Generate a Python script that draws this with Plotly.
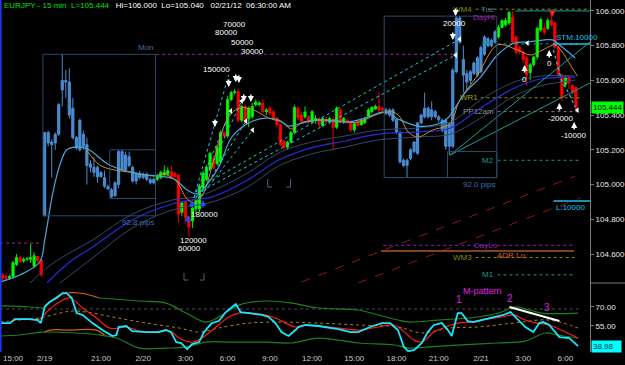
import plotly.graph_objects as go

FONT = "Arial, 'Liberation Sans', sans-serif"

# ---------------- price bars (EURJPY 15 min) ----------------
opens = [104.47,104.48,104.47,104.46,104.47,104.54,104.58,104.56,104.57,104.57,104.53,104.585,104.565,
         104.82,105.30,105.245,105.24,105.29,105.545,105.60,105.59,105.44,105.27,105.20,105.29,105.23,105.12,
         105.10,105.10,105.045,105.04,104.99,104.97,104.935,105.00,105.19,105.085,105.16,105.10,105.02,105.065,
         105.04,105.06,105.03,105.01,105.03,105.04,105.055,105.06,105.075,105.065,105.055,104.84,104.90,104.81,
         104.79,104.86,104.86,104.98,105.03,105.09,105.15,105.12,105.13,105.30,105.28,105.49,105.53,105.535,
         105.37,105.45,105.38,105.39,105.46,105.46,105.47,105.42,105.44,105.42,105.385,105.345,105.25,105.215,
         105.245,105.30,105.44,105.40,105.39,105.39,105.36,105.37,105.38,105.34,105.375,105.36,105.375,105.33,
         105.43,105.36,105.37,105.36,105.315,105.36,105.345,105.355,105.395,105.42,105.435,105.45,105.44,
         105.43,105.43,105.43,105.375,105.30,105.14,105.11,105.15,105.19,105.18,105.355,105.39,105.44,105.39,
         105.42,105.39,105.37,105.37,105.35,105.22,105.65,105.96,105.72,105.64,105.60,105.64,105.63,105.65,
         105.75,105.84,105.80,105.82,105.85,105.905,105.92,105.93,105.965,105.85,105.79,105.765,105.73,105.645,
         105.69,105.735,105.89,105.90,105.90,105.945,105.93,105.79,105.63,105.575,105.62,105.57,105.56]
highs = [104.48,104.49,104.49,104.48,104.56,104.60,104.59,104.58,104.58,104.66,104.61,104.59,104.575,
         105.30,105.31,105.26,105.30,105.47,105.75,105.66,105.67,105.50,105.28,105.38,105.31,105.27,105.14,
         105.16,105.11,105.08,105.08,105.00,104.98,105.02,105.20,105.20,105.19,105.19,105.11,105.07,105.08,
         105.07,105.07,105.04,105.04,105.06,105.08,105.11,105.10,105.11,105.075,105.06,104.90,104.91,104.82,
         104.88,104.92,105.00,105.08,105.11,105.19,105.17,105.23,105.31,105.31,105.51,105.54,105.55,105.55,
         105.46,105.46,105.45,105.47,105.49,105.48,105.49,105.44,105.45,105.43,105.39,105.35,105.26,105.25,
         105.31,105.46,105.45,105.42,105.45,105.40,105.43,105.40,105.39,105.39,105.39,105.39,105.39,105.45,
         105.44,105.39,105.38,105.37,105.36,105.37,105.38,105.39,105.44,105.45,105.46,105.53,105.45,
         105.44,105.44,105.44,105.38,105.31,105.15,105.15,105.21,105.25,105.36,105.41,105.53,105.45,105.48,
         105.43,105.40,105.38,105.38,105.36,105.67,105.97,105.97,105.80,105.66,105.66,105.71,105.74,105.80,
         105.86,105.85,105.84,105.89,105.92,105.95,105.96,106.00,106.00,105.86,105.80,105.77,105.74,105.70,
         105.74,105.91,105.96,105.93,105.96,106.00,105.94,105.80,105.64,105.63,105.63,105.58,105.57]
lows = [104.45,104.45,104.45,104.45,104.46,104.53,104.55,104.55,104.56,104.55,104.52,104.55,104.47,
        104.82,105.22,105.04,105.20,105.28,105.45,105.50,105.38,105.26,105.20,105.19,105.20,105.00,105.07,
        105.045,105.01,105.04,104.98,104.97,104.92,104.93,104.98,105.08,105.07,105.10,105.01,105.00,105.03,
        105.03,105.02,105.00,105.00,105.02,105.03,105.05,105.05,105.04,105.035,104.78,104.82,104.78,104.70,
        104.75,104.83,104.84,104.97,105.02,105.08,105.09,105.11,105.12,105.27,105.27,105.48,105.52,105.36,
        105.36,105.35,105.33,105.38,105.45,105.45,105.41,105.40,105.40,105.37,105.33,105.22,105.20,105.20,
        105.24,105.29,105.37,105.35,105.38,105.35,105.35,105.35,105.33,105.33,105.35,105.35,105.20,105.32,
        105.35,105.35,105.35,105.30,105.30,105.33,105.34,105.35,105.39,105.41,105.43,105.42,105.42,
        105.40,105.39,105.36,105.29,105.12,105.10,105.04,105.14,105.18,105.17,105.35,105.38,105.38,105.37,
        105.38,105.36,105.30,105.20,105.17,105.21,105.64,105.81,105.53,105.55,105.58,105.63,105.62,105.64,
        105.74,105.79,105.79,105.81,105.84,105.90,105.91,105.92,105.81,105.75,105.75,105.70,105.57,105.60,
        105.68,105.72,105.88,105.86,105.89,105.91,105.78,105.62,105.48,105.56,105.55,105.52,105.43]
closes = [104.46,104.46,104.46,104.47,104.55,104.58,104.555,104.57,104.575,104.58,104.59,104.56,104.48,
          105.30,105.24,105.23,105.29,105.46,105.60,105.59,105.40,105.27,105.21,105.37,105.22,105.11,105.10,
          105.07,105.045,105.07,104.99,104.975,104.93,105.01,105.19,105.085,105.17,105.11,105.02,105.065,105.04,
          105.06,105.03,105.01,105.03,105.045,105.07,105.07,105.08,105.045,105.045,104.83,104.895,104.81,104.755,
          104.865,104.91,104.99,105.065,105.10,105.18,105.095,105.215,105.30,105.28,105.49,105.53,105.535,105.37,
          105.45,105.355,105.44,105.45,105.475,105.47,105.42,105.43,105.41,105.385,105.345,105.23,105.215,105.245,
          105.30,105.445,105.385,105.36,105.418,105.36,105.42,105.38,105.345,105.38,105.36,105.38,105.33,105.44,
          105.36,105.38,105.365,105.315,105.35,105.34,105.37,105.375,105.43,105.445,105.45,105.43,105.43,
          105.41,105.40,105.37,105.30,105.13,105.11,105.14,105.20,105.245,105.355,105.40,105.44,105.39,105.43,
          105.39,105.375,105.31,105.22,105.22,105.66,105.96,105.82,105.63,105.59,105.65,105.70,105.73,105.79,
          105.85,105.80,105.83,105.88,105.905,105.945,105.945,105.99,105.82,105.76,105.765,105.72,105.63,105.69,
          105.735,105.90,105.95,105.875,105.945,105.92,105.79,105.63,105.50,105.62,105.585,105.53,105.444]
bar_index = list(range(len(closes)))

x_tick_bars = [4, 13, 29, 41, 53, 65, 77, 89, 101, 113, 125, 137, 149, 161]
x_tick_labels = ["15:00", "2/19", "21:00", "2/20", "3:00", "6:00", "9:00", "12:00",
                 "15:00", "18:00", "21:00", "2/21", "3:00", "6:00"]
price_ticks = [104.6, 104.8, 105.0, 105.2, 105.4, 105.6, 105.8, 106.0]
osc_ticks = [55, 70]

# session boxes (first / last bar index)
session_mon = (13, 44)
session_mon_inner = (32, 44)
session_tue = (110, 141)
last_price = 105.444
last_osc = 38.98

# ---------------- moving averages ----------------
ma_fast_x = [0.3,5.9,11.6,13.0,15.3,17.3,19.2,21.5,25.2,31.4,39.9,45.5,49.8,53.5,56.3,59.7,62.5,66.2,71.0,75.8,
             79.5,82.3,85.1,90.8,99.3,104.1,109.8,113.4,119.1,124.8,127.6,132.4,136.9,141.7,146.5,150.2,155.0,
             157.3,160.1,163.8]
ma_fast_y = [104.439,104.479,104.554,104.680,104.951,105.113,105.199,105.216,105.205,105.113,105.061,105.049,
             105.032,104.969,104.946,105.015,105.101,105.274,105.355,105.383,105.372,105.337,105.349,105.372,
             105.360,105.383,105.418,105.378,105.337,105.349,105.383,105.527,105.619,105.746,105.815,105.821,
             105.833,105.833,105.792,105.729]
ma_orange_x = [24.9,28.6,32.8,37.1,44.1,46.9,50.6,53.2,55.4,57.7,61.1,64.8,68.2,72.4,76.7,80.3,83.2,86.6,93.6,
               102.1,107.8,112.0,114.0,116.3,119.1,123.3,128.1,131.0,136.1,141.7,147.4,151.1,154.5,158.1,160.1,
               162.4,164.4]
ma_orange_y = [105.199,105.113,105.084,105.072,105.049,105.061,105.015,104.923,104.894,104.934,105.141,105.372,
               105.441,105.429,105.383,105.360,105.320,105.360,105.372,105.360,105.407,105.418,105.389,105.303,
               105.274,105.314,105.349,105.487,105.631,105.804,105.775,105.746,105.775,105.804,105.764,105.689,
               105.625]
ma_blue_x = [13.6,20.1,26.6,37.9,49.2,56.9,60.5,70.2,79.5,88.8,98.4,107.8,119.1,128.4,136.9,146.5,153.9,163.8]
ma_blue_y = [104.433,104.554,104.640,104.796,104.888,104.917,104.928,105.020,105.141,105.211,105.251,105.291,
             105.303,105.326,105.441,105.556,105.608,105.619]
ma_slate1_x = [8.8,15.8,26.6,37.9,49.2,56.9,70.2,79.5,88.8,98.4,107.8,119.1,128.4,136.9,146.5,153.9,163.8]
ma_slate1_y = [104.433,104.554,104.680,104.830,104.911,104.934,105.061,105.182,105.245,105.280,105.314,105.326,
               105.360,105.487,105.591,105.625,105.625]
ma_slate2_x = [17.3,26.6,37.9,49.2,60.5,70.2,79.5,88.8,98.4,107.8,119.1,128.4,136.9,146.5,153.9,163.8]
ma_slate2_y = [104.433,104.577,104.750,104.853,104.899,104.980,105.107,105.176,105.216,105.257,105.274,105.291,
               105.383,105.510,105.568,105.602]

# cyan dotted trend/fan lines: (x0, y0, x1, y1)
fan_lines = [(55.4,104.923,65.3,105.631),(55.4,104.923,65.9,105.424),(56.0,104.923,69.0,105.481),
             (56.9,104.928,70.2,105.366),(57.4,104.934,72.1,105.314),(59.1,105.009,131.0,105.838),
             (59.1,104.980,129.8,105.746)]
trail_x = [157.6,160.1,161.5,163.8]
trail_y = [105.775,105.586,105.545,105.447]
teal_lines = [(128.2,105.170,168.0,105.821),(128.2,105.170,168.0,105.585)]
red_channel = [(86.0,104.439,163.8,105.049),(102.1,104.433,165.2,104.923)]

# ---------------- horizontal levels ----------------
lvl_wm4, lvl_dayhi, lvl_m3, lvl_stm = 106.01, 106.00, 105.81, 105.81
lvl_wr1, lvl_pp, lvl_m2, lvl_lim = 105.50, 105.42, 105.14, 104.905
lvl_daylo, lvl_adrlo, lvl_wm3, lvl_m1 = 104.65, 104.617, 104.58, 104.48
lvl_prev = 104.663

# ---------------- oscillator panel ----------------
rsi_x = [0.3,3.1,4.5,8.8,11.0,11.9,13.0,14.4,16.4,18.1,19.2,20.7,22.1,23.8,26.6,29.4,32.3,33.4,34.0,36.2,37.9,
         41.9,45.5,47.5,48.9,50.4,51.8,53.5,54.9,56.9,58.3,60.5,62.5,64.5,67.3,68.7,71.0,74.7,76.7,78.6,80.3,
         82.3,84.3,85.1,87.1,90.8,96.5,99.9,102.1,105.5,108.9,111.2,113.4,115.1,116.3,118.0,120.2,121.9,123.6,
         125.9,127.6,128.7,130.4,131.5,133.2,134.9,137.2,140.6,143.4,145.4,147.4,149.6,151.9,153.6,154.7,
         156.4,159.3,162.1,164.6]
rsi_y = [57.1,57.1,60.3,60.3,59.5,57.1,69.8,73.7,76.9,80.8,80.8,76.9,65.0,63.5,57.1,51.6,46.9,47.7,54.0,54.8,
         50.8,50.0,50.0,51.6,50.0,42.1,41.4,36.6,40.6,42.1,50.0,57.1,58.7,65.8,72.1,65.8,65.0,63.5,61.9,57.1,
         50.0,46.9,51.6,54.0,55.6,54.8,52.4,50.0,50.0,54.0,57.1,57.1,51.6,38.2,35.0,35.8,41.4,50.0,55.6,57.1,
         51.6,46.9,65.0,65.0,58.7,57.9,59.5,61.9,63.5,65.8,60.3,54.0,50.0,57.1,57.9,55.6,46.1,45.3,38.98]
sig_x = [3.1,5.9,11.6,13.6,16.7,20.1,23.8,27.7,31.4,34.2,36.2,39.9,43.6,47.5,49.2,51.2,54.9,57.7,61.7,65.3,
         68.2,71.9,75.8,78.6,81.5,84.3,87.1,90.8,96.5,102.1,107.8,112.3,114.6,118.0,120.2,123.6,127.0,130.4,
         133.8,138.3,142.9,146.3,149.6,153.0,156.4,159.8,164.6]
sig_y = [57.9,60.3,60.3,65.8,72.9,76.9,69.0,61.1,53.2,53.2,54.0,50.8,50.0,51.6,50.0,45.3,42.1,45.3,54.0,61.9,
         65.0,65.0,63.5,61.1,57.1,54.0,55.6,54.8,53.2,51.6,54.0,55.6,51.6,43.7,42.1,50.0,54.0,57.1,57.9,60.3,
         61.9,63.5,59.5,57.1,55.6,51.6,45.3]
mid_x = [0.3,5.9,11.6,17.3,20.9,24.9,32.3,41.9,51.2,56.9,62.5,71.0,80.3,90.8,102.1,113.4,120.2,128.2,136.1,
         146.3,156.4,164.6]
mid_y = [57.9,59.5,61.1,65.0,66.6,65.8,61.9,57.1,53.2,50.0,53.2,57.1,57.9,57.1,55.6,54.0,49.3,53.2,54.0,57.1,
         59.5,53.2]
upper_a_x = [0.3, 8.8, 13.0]
upper_a_y = [70.6, 69.8, 69.0]
upper_b_x = [28.6,39.9,47.5,53.2,58.8,62.5,68.2,75.8,83.2,90.8,102.1,107.8,113.4,116.8,124.8,136.1,142.9,146.3,
             150.8,154.2,164.6]
upper_b_y = [76.9,74.5,72.9,65.0,57.9,61.9,71.3,74.5,72.9,69.0,67.4,63.5,59.5,57.9,59.5,61.9,65.8,69.8,67.4,
             65.0,65.0]
lower_x = [0.3,5.9,12.4,28.6,33.4,39.9,47.5,53.2,58.8,66.2,75.8,83.2,90.8,102.1,112.3,116.8,121.4,130.4,141.7,
           149.6,155.3,158.7,164.6]
lower_y = [46.9,47.7,50.0,47.7,45.3,37.4,37.4,38.2,42.1,42.1,42.1,41.4,45.3,41.4,39.8,37.4,38.2,39.8,41.4,
           42.9,49.3,47.7,45.3]
orange_up_x = [13.0,14.4,17.3,19.2,22.9,28.6]
orange_up_y = [70.6,73.7,79.2,80.8,80.8,76.9]
orange_lo_x = [13.0,14.4,20.1,27.7,30.0]
orange_lo_y = [50.0,51.6,51.6,51.6,47.7]
osc_ref_level = 68.2
m_pattern_line_x = [145.1, 159.3]
m_pattern_line_y = [69.8, 58.7]

fig = go.Figure()

# ---------------- helper ----------------
def line(x, y, color, width=1, dash="solid", yaxis="y", shape="linear"):
    fig.add_trace(go.Scatter(x=x, y=y, mode="lines", yaxis=yaxis, hoverinfo="skip",
                             line=dict(color=color, width=width, dash=dash, shape=shape)))

for (x0, y0, x1, y1) in red_channel:
    line([x0, x1], [y0, y1], "#8a1a1a", 1, "dash")

# horizontal levels
line([0.3, 12.2], [lvl_prev, lvl_prev], "#a020a0", 1, "dot")
mon_hi = max(highs[session_mon[0]:session_mon[1] + 1])
line([44.7, 129.6], [mon_hi, mon_hi], "#a020a0", 1, "dot")
line([135.5, 168], [lvl_wm4, lvl_wm4], "#8a8a10", 1, "dot")
line([146.8, 168], [lvl_dayhi, lvl_dayhi], "#178080", 1.2)
line([141.7, 165.2], [lvl_m3, lvl_m3], "#159a9a", 1, "dot")
line([157.6, 168], [lvl_stm, lvl_stm], "#18c0e8", 1.5)
line([136.9, 165.2], [lvl_wr1, lvl_wr1], "#8a8a10", 1, "dot")
line([141.7, 165.2], [lvl_pp, lvl_pp], "#808080", 1, "dot")
line([141.7, 165.2], [lvl_m2, lvl_m2], "#159a9a", 1, "dot")
line([157.6, 168], [lvl_lim, lvl_lim], "#18c0e8", 1.5)
line([109.2, 163.8], [lvl_daylo, lvl_daylo], "#8a20a8", 1, "dot")
line([108.6, 163.5], [lvl_adrlo, lvl_adrlo], "#a85a28", 1.5)
line([135.5, 163.8], [lvl_wm3, lvl_wm3], "#8a8a10", 1, "dot")
line([141.7, 163.8], [lvl_m1, lvl_m1], "#159a9a", 1, "dot")

# moving averages
line(ma_slate1_x, ma_slate1_y, "#34486a", 1, shape="spline")
line(ma_slate2_x, ma_slate2_y, "#34486a", 1, shape="spline")
line(ma_blue_x, ma_blue_y, "#2a2ad8", 1.2, shape="spline")
line(ma_orange_x, ma_orange_y, "#d08a28", 1, shape="spline")
line(ma_fast_x, ma_fast_y, "#4aa6dc", 1.2, shape="spline")

for (x0, y0, x1, y1) in fan_lines:
    line([x0, x1], [y0, y1], "#22c8d8", 1, "dot")
line(trail_x, trail_y, "#22c8d8", 1.2, "dot")
for (x0, y0, x1, y1) in teal_lines:
    line([x0, x1], [y0, y1], "#1a9a9a", 1)

# candles
in_sess = lambda i: (session_mon[0] <= i <= session_mon[1]) or (session_tue[0] <= i <= session_tue[1])
reg = [i for i in bar_index if not in_sess(i)]
ses = [i for i in bar_index if in_sess(i)]
fig.add_trace(go.Candlestick(
    x=reg, open=[opens[i] for i in reg], high=[highs[i] for i in reg],
    low=[lows[i] for i in reg], close=[closes[i] for i in reg],
    increasing=dict(line=dict(color="#00ee00", width=1), fillcolor="#00ff00"),
    decreasing=dict(line=dict(color="#ee0000", width=1), fillcolor="#ff0000"),
    hoverinfo="skip", whiskerwidth=0))
fig.add_trace(go.Candlestick(
    x=ses, open=[opens[i] for i in ses], high=[highs[i] for i in ses],
    low=[lows[i] for i in ses], close=[closes[i] for i in ses],
    increasing=dict(line=dict(color="#4a8cd2", width=1), fillcolor="#4a8cd2"),
    decreasing=dict(line=dict(color="#4a8cd2", width=1), fillcolor="#4a8cd2"),
    hoverinfo="skip", whiskerwidth=0))

# white markers (triangles)
tri_x = [65.9, 70.2, 72.1, 69.0, 131.0, 129.8, 164.4, 150.2]
tri_y = [105.424, 105.366, 105.314, 105.481, 105.838, 105.746, 105.429, 105.815]
fig.add_trace(go.Scatter(x=tri_x, y=tri_y, mode="markers", hoverinfo="skip",
                         marker=dict(symbol="triangle-left", size=5, color="white")))

# small bracket markers
br_x = [52.6, 52.6, 53.8, None, 57.1, 58.3, 58.3, None, 76.4, 76.4, 77.6, None, 81.7, 82.9, 82.9]
br_y = [104.49, 104.45, 104.45, None, 104.45, 104.45, 104.49, None, 105.032, 104.986, 104.986, None,
        104.986, 104.986, 105.032]
fig.add_trace(go.Scatter(x=br_x, y=br_y, mode="lines", hoverinfo="skip",
                         line=dict(color="#4a6484", width=1)))

# ---------------- oscillator ----------------
line([0.3, 165.2], [osc_ref_level, osc_ref_level], "#4a4a5a", 1, "dot", "y2")
line(upper_a_x, upper_a_y, "#1f7f1f", 1.2, yaxis="y2", shape="spline")
line(upper_b_x, upper_b_y, "#1f7f1f", 1.2, yaxis="y2", shape="spline")
line(lower_x, lower_y, "#1f7f1f", 1.2, yaxis="y2", shape="spline")
line(orange_up_x, orange_up_y, "#c8641a", 1.2, yaxis="y2", shape="spline")
line(orange_lo_x, orange_lo_y, "#c8641a", 1.2, yaxis="y2", shape="spline")
line(mid_x, mid_y, "#b08020", 1, "dot", "y2", shape="spline")
line(sig_x, sig_y, "#ff1a1a", 1.2, yaxis="y2", shape="spline")
line(rsi_x, rsi_y, "#18e8ff", 1.8, yaxis="y2")
line(m_pattern_line_x, m_pattern_line_y, "#ffffff", 2, yaxis="y2")

# ---------------- shapes ----------------
shapes = []
def rect(i0, i1, y0, y1):
    shapes.append(dict(type="rect", xref="x", yref="y", x0=i0 - 0.5, x1=i1 + 0.5, y0=y0, y1=y1,
                       line=dict(color="#2e4a6a", width=1), fillcolor="rgba(0,0,0,0)"))
mon_lo = min(lows[session_mon[0]:session_mon[1] + 1])
rect(session_mon[0], session_mon[1], mon_lo, mon_hi)
rect(session_mon_inner[0], session_mon_inner[1],
     min(lows[session_mon_inner[0]:session_mon_inner[1] + 1]),
     max(highs[session_mon_inner[0]:session_mon_inner[1] + 1]))
tue_lo = min(lows[session_tue[0]:session_tue[1] + 1])
tue_hi = max(highs[session_tue[0]:session_tue[1] + 1])
rect(session_tue[0], session_tue[1], tue_lo, tue_hi)
rect(128, session_tue[1], tue_lo, 105.19)
shapes.append(dict(type="line", xref="paper", yref="paper", x0=0.001, x1=0.001, y0=0, y1=1,
                   line=dict(color="#1a3ae8", width=2)))
shapes.append(dict(type="line", xref="paper", yref="paper", x0=1, x1=1.06, y0=0.196, y1=0.196,
                   line=dict(color="#7a7a7a", width=1)))

# ---------------- annotations ----------------
ann = []
def txt(x, y, s, color, size=8, xa="center", ya="middle", yref="y", xref="x", **kw):
    d = dict(x=x, y=y, xref=xref, yref=yref, text=s, showarrow=False, xanchor=xa, yanchor=ya,
             font=dict(family=FONT, size=size, color=color))
    d.update(kw)
    ann.append(d)

def arrow(x, y, color, up):
    ann.append(dict(x=x, y=y, xref="x", yref="y", text="", showarrow=True, ax=0, ay=(9 if up else -9),
                    arrowhead=2, arrowsize=0.8, arrowwidth=1.5, arrowcolor=color))

title = ("<span style='color:#00e000'>EURJPY - 15 min&#160;&#160;L=105.444</span>"
         "&#160;&#160;&#160;Hi=106.000&#160;&#160;Lo=105.040&#160;&#160;&#160;02/21/12&#160;&#160;06:30:00 AM")
txt(0.003, 1.0, title, "#ffffff", 8, xa="left", ya="top", xref="paper", yref="paper", yshift=1)

txt(session_mon[1] + 0.5, mon_hi, "Mon", "#4a6e98", 8, xa="right", ya="bottom")
txt(session_mon[1] + 0.5, mon_lo, "92.8 pips", "#3f70b0", 8, xa="right", ya="top")
txt(session_tue[1] + 0.5, tue_hi, "Tue", "#4a6e98", 8, xa="right", ya="bottom")
txt(session_tue[1] + 0.5, tue_lo, "92.0 pips", "#3f70b0", 8, xa="right", ya="top")

txt(134.9, lvl_wm4, "WM4", "#8a8a10", 8, xa="right")
txt(141.7, 105.965, "DayHi", "#a020b8", 8, xa="right")
txt(141.2, lvl_m3, "M3", "#159a9a", 8, xa="right")
txt(157.9, lvl_stm, "STM:10000", "#18c0e8", 8, xa="left", ya="bottom")
txt(136.6, lvl_wr1, "WR1", "#a0a020", 8, xa="right")
txt(141.2, lvl_pp, "PP12am", "#909090", 8, xa="right")
txt(141.2, lvl_m2, "M2", "#159a9a", 8, xa="right")
txt(157.9, lvl_lim, "L:10000", "#18c0e8", 8, xa="left", ya="top")
txt(138.3, lvl_daylo, "DayLo", "#8a20a8", 8)
txt(140.9, 104.59, "ADR Lo", "#d0641e", 8, xa="left")
txt(134.9, lvl_wm3, "WM3", "#8a8a10", 8, xa="right")
txt(141.2, lvl_m1, "M1", "#159a9a", 8, xa="right")

white = "#ffffff"
for (x, y, s) in [(67.0, 105.92, "70000"), (64.8, 105.873, "80000"), (69.3, 105.821, "50000"),
                  (72.1, 105.769, "30000"), (61.9, 105.66, "150000"), (58.3, 104.825, "180000"),
                  (55.4, 104.68, "120000"), (54.3, 104.63, "60000"), (129.6, 105.925, "20000"),
                  (149.4, 105.608, "0"), (156.4, 105.70, "0"), (159.5, 105.383, "-20000"),
                  (163.2, 105.28, "-10000")]:
    txt(x, y, s, white, 8)

for (x, y) in [(65.3, 105.562), (67.3, 105.591), (68.2, 105.585), (69.6, 105.476), (71.6, 105.476),
               (61.4, 105.331), (129.8, 105.971), (129.0, 105.833)]:
    arrow(x, y, white, False)
for (x, y) in [(149.4, 105.689), (156.4, 105.775), (159.3, 105.470), (163.5, 105.360)]:
    arrow(x, y, white, True)
for (x, y) in [(53.7, 104.825), (54.9, 104.911), (58.0, 104.911)]:
    arrow(x, y, "#2848ff", True)
arrow(157.3, 105.965, "#ff2020", False)

# oscillator texts
txt(143.6, 82.4, "M-pattern", "#e020e0", 9, xa="right", yref="y2")
txt(130.7, 75.3, "1", "#e020e0", 10, yref="y2")
txt(145.3, 76.3, "2", "#e020e0", 10, yref="y2")
txt(155.9, 69.0, "3", "#e020e0", 10, yref="y2")

# last value tags
ann.append(dict(x=1, y=last_price, xref="paper", yref="y", text="105.444", showarrow=False,
                xanchor="left", yanchor="middle", xshift=1, bgcolor="#00ff00", borderpad=1,
                font=dict(family=FONT, size=8, color="#000000")))
ann.append(dict(x=1, y=last_osc, xref="paper", yref="y2", text="38.98", showarrow=False,
                xanchor="left", yanchor="middle", xshift=1, bgcolor="#00ffff", borderpad=1,
                font=dict(family=FONT, size=8, color="#003040"), width=27, align="left"))

fig.update_layout(
    width=625, height=365, margin=dict(l=0, r=32, t=0, b=13),
    paper_bgcolor="#000000", plot_bgcolor="#000000", showlegend=False,
    shapes=shapes, annotations=ann, boxgap=0.12, boxmode="overlay",
    font=dict(family=FONT, size=8, color="#e0e0e0"),
    xaxis=dict(range=[0.3, 168.0], anchor="y2", showgrid=False, zeroline=False, showline=False,
               tickvals=x_tick_bars, ticktext=x_tick_labels, ticks="", tickangle=0,
               tickfont=dict(family=FONT, size=8, color="#c8c8c8"),
               rangeslider=dict(visible=False)),
    yaxis=dict(domain=[0.196, 1], range=[104.433, 106.063], side="right", anchor="x",
               tickvals=price_ticks, tickformat=".3f", showgrid=False, zeroline=False,
               showline=True, linecolor="#7a7a7a", linewidth=1, ticks="outside", ticklen=3,
               tickcolor="#7a7a7a", tickfont=dict(family=FONT, size=8, color="#e8e8e8")),
    yaxis2=dict(domain=[0, 0.196], range=[34.3, 88.7], side="right", anchor="x",
                tickvals=osc_ticks, ticktext=["55.00", "70.00"], showgrid=False, zeroline=False,
                showline=True, linecolor="#7a7a7a", linewidth=1, ticks="outside", ticklen=3,
                tickcolor="#7a7a7a", tickfont=dict(family=FONT, size=8, color="#e8e8e8")),
)

fig.write_html("out.html")
